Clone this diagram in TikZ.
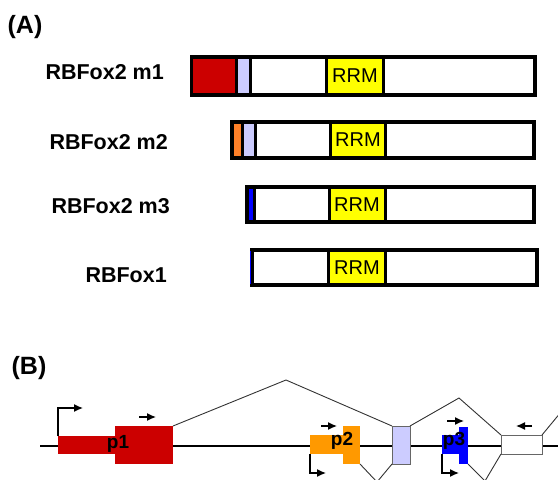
\documentclass[tikz,border=0pt]{standalone}
\usepackage{fontspec}
\setmainfont{Liberation Sans}
\usetikzlibrary{arrows.meta}
\definecolor{domred}{RGB}{204,0,0}
\definecolor{domlav}{RGB}{204,204,255}
\definecolor{domorange}{RGB}{255,128,40}
\definecolor{exorange}{RGB}{255,153,0}
\definecolor{domblue}{RGB}{0,0,255}
\definecolor{domyellow}{RGB}{255,255,0}
\begin{document}
\begin{tikzpicture}[x=1pt,y=-1pt,
	frame/.style = {draw=black,line width=3.5pt},
	sep/.style = {line width=3pt},
	lab/.style = {anchor=east,inner sep=0pt,font=\fontsize{21.5}{25}\selectfont\bfseries},
	panel/.style = {inner sep=0pt,font=\fontsize{25}{29}\selectfont\bfseries},
	rrm/.style = {inner sep=0pt,font=\fontsize{20}{24}\selectfont},
	exon/.style = {rectangle,inner sep=0pt,outer sep=0pt},
	plab/.style = {inner sep=0pt,font=\fontsize{19}{22}\selectfont\bfseries},
	intron/.style = {draw=black!80,line width=0.9pt},
	tss/.style = {line width=1.3pt,-{Latex[length=9pt,width=8pt]}}]

\useasboundingbox (0,0) rectangle (558,480);
\clip (0,0) rectangle (558,480);

% (A) protein isoforms
\node[panel] (A) at (25,27) {(A)};

\node[lab] (m1) at (164,72) {RBFox2 m1};
\fill[domred] (191.5,57) rectangle (236.5,95);
\fill[domlav] (236.5,57) rectangle (250,95);
\fill[domyellow] (326.5,57) rectangle (383.5,95);
\draw[sep] (236.5,57) -- (236.5,95) (250,57) -- (250,95)
	(326.5,57) -- (326.5,95) (383.5,57) -- (383.5,95);
\draw[frame] (191.5,57) rectangle (535,95);
\node[rrm] (r1) at (355,76) {RRM};

\node[lab] (m2) at (168,142) {RBFox2 m2};
\fill[domorange] (232,122) rectangle (242.5,158);
\fill[domlav] (242.5,122) rectangle (255.5,158);
\fill[domyellow] (330.5,122) rectangle (385.5,158);
\draw[sep] (242.5,122) -- (242.5,158) (255.5,122) -- (255.5,158)
	(330.5,122) -- (330.5,158) (385.5,122) -- (385.5,158);
\draw[frame] (232,122) rectangle (534,158);
\node[rrm] (r2) at (358,140) {RRM};

\node[lab] (m3) at (170,206) {RBFox2 m3};
\fill[domblue] (247,187) rectangle (254.5,222);
\fill[domyellow] (329.5,187) rectangle (385,222);
\draw[sep] (254.5,187) -- (254.5,222)
	(329.5,187) -- (329.5,222) (385,187) -- (385,222);
\draw[frame] (247,187) rectangle (534,222);
\node[rrm] (r3) at (357,205) {RRM};

\node[lab] (f1) at (167,275) {RBFox1};
\fill[domyellow] (328.5,250) rectangle (385.5,285);
\draw[sep] (328.5,250) -- (328.5,285) (385.5,250) -- (385.5,285);
\draw[frame] (252,250) rectangle (537,285);
\draw[domblue,line width=0.8pt] (250.5,251) -- (250.5,284);
\node[rrm] (r4) at (357,268) {RRM};

% (B) gene structure
\node[panel] (B) at (29,368) {(B)};

\coordinate (s) at (40,446);
\coordinate (e) at (558,446);
\draw[line width=2.8pt] (s) -- (e);

\node[exon,fill=domred,minimum width=57pt,minimum height=18pt] (p1a) at (86.5,445) {};
\node[exon,fill=domred,minimum width=58pt,minimum height=38pt] (p1b) at (144,445) {};
\node[exon,fill=exorange,minimum width=33pt,minimum height=19pt] (p2a) at (326.5,444.5) {};
\node[exon,fill=exorange,minimum width=17pt,minimum height=38pt] (p2b) at (351.5,445) {};
\node[exon,fill=domlav,draw=black!60,line width=1pt,minimum width=18pt,minimum height=38pt] (lav) at (401,445) {};
\node[exon,fill=domblue,minimum width=17pt,minimum height=19pt] (p3a) at (450.5,444.5) {};
\node[exon,fill=domblue,minimum width=9pt,minimum height=37pt] (p3b) at (463.5,445.5) {};
\node[exon,fill=white,draw=black!60,line width=1pt,minimum width=41pt,minimum height=19pt] (w) at (521.5,444.5) {};

\node[plab] (t1) at (118,444) {p1};
\node[plab] (t2) at (342,441) {p2};
\node[plab] (t3) at (454,441) {p3};

% splicing
\coordinate (k1) at (286,380);
\coordinate (k2) at (459,398);
\coordinate (k3) at (377,482);
\coordinate (k4) at (485,481);
\coordinate (k5) at (566,406);
\draw[intron] (p1b.north east) -- (k1) -- (lav.north west);
\draw[intron] (lav.north east) -- (k2) -- (w.north west);
\draw[intron] (p2b.south east) -- (k3) -- (lav.south west);
\draw[intron] (p3b.south east) -- (k4) -- (w.south west);
\draw[intron] (w.north east) -- (k5);

% promoters and directions
\draw[tss] (p1a.north west) -- ++(0,-28) -- ++(25,0);
\draw[tss] (p2a.south west) -- ++(0,19) -- ++(16,0);
\draw[tss] (p3a.south west) -- ++(0,19) -- ++(17,0);
\draw[tss] (139,417) -- (156,417);
\draw[tss] (321,426) -- (337,426);
\draw[tss] (447,421) -- (464,421);
\draw[tss] (532,426) -- (516,426);
\end{tikzpicture}
\end{document}
